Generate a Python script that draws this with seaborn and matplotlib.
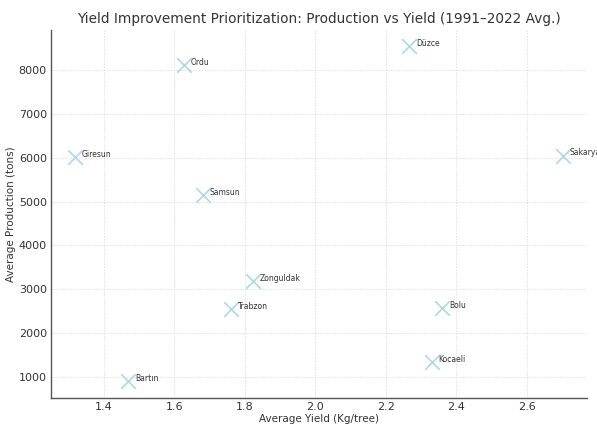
import pandas as pd
import matplotlib
matplotlib.use("Agg")
import matplotlib.pyplot as plt
import seaborn as sns

# =========================
# DATA
# =========================
provinces = ["Ordu", "Giresun", "Samsun", "Düzce", "Sakarya",
             "Zonguldak", "Trabzon", "Bartın", "Bolu", "Kocaeli"]
avg_yield = [1.627, 1.318, 1.681, 2.265, 2.702,
             1.823, 1.760, 1.468, 2.359, 2.330]
avg_production = [8115, 6020, 5140, 8545, 6045,
                  3180, 2545, 905, 2570, 1340]

df = pd.DataFrame({"Province": provinces,
                   "Yield": avg_yield,
                   "Production": avg_production})

# =========================
# STYLE
# =========================
sns.set_theme(style="whitegrid")
plt.rcParams["font.family"] = ["DejaVu Sans"]

fig = plt.figure(figsize=(5.97, 4.25), dpi=100)
ax = fig.add_axes([0.0854, 0.0635, 0.8976, 0.866])

sns.scatterplot(data=df, x="Yield", y="Production", marker="x",
                s=110, color="#add8e6", linewidth=1.2, ax=ax)

for name, xv, yv in zip(provinces, avg_yield, avg_production):
    ax.annotate(name, (xv, yv), xytext=(5, 2), textcoords="offset points",
                fontsize=5.5, color="#333333", va="center")

ax.set_xlim(1.25, 2.77)
ax.set_ylim(523, 8910)
ax.set_xticks([1.4, 1.6, 1.8, 2.0, 2.2, 2.4, 2.6])
ax.set_yticks([1000, 2000, 3000, 4000, 5000, 6000, 7000, 8000])

ax.grid(True, linestyle=(0, (2, 2)), linewidth=0.5, color="#d5d5d5")
for side in ["top", "right"]:
    ax.spines[side].set_visible(False)
for side in ["left", "bottom"]:
    ax.spines[side].set_color("#555555")
    ax.spines[side].set_linewidth(1.0)

ax.tick_params(labelsize=8, colors="#333333", length=2, width=0.6,
               direction="inout", pad=2)
ax.set_title("Yield Improvement Prioritization: Production vs Yield (1991–2022 Avg.)",
             fontsize=9.8, color="#333333", pad=5)
ax.set_xlabel("Average Yield (Kg/tree)", fontsize=7.5, color="#333333", labelpad=1)
ax.set_ylabel("Average Production (tons)", fontsize=7.5, color="#333333", labelpad=2)

fig.savefig("out.png", dpi=100)
plt.close(fig)
